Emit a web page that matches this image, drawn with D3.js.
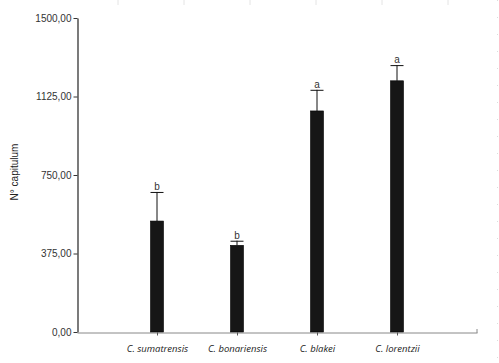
<!DOCTYPE html>
<html><head><meta charset="utf-8">
<script src="https://cdn.jsdelivr.net/npm/d3@7"></script>
<style>body{margin:0;background:#fff}svg{display:block}</style>
</head><body>
<svg id="c" width="499" height="363"></svg>
<script>
const categories = ["C. sumatrensis","C. bonariensis","C. blakei","C. lorentzii"];
const means = [530, 414, 1056, 1200];
const errors = [139, 22, 101, 75];
const letters = ["b","b","a","a"];
const yTicks = [0, 375, 750, 1125, 1500];
const yLabels = ["0,00","375,00","750,00","1125,00","1500,00"];

const svg = d3.select("#c");
const x0 = 77, x1 = 477, yTop = 18, yBot = 332;
const y = d3.scaleLinear().domain([0,1500]).range([yBot, yTop]);
const x = d3.scaleLinear().domain([0,5]).range([x0, x1]);

// faint spreadsheet gridlines at top
const gx = [118,184,250,316,382,448];
svg.selectAll("line.g").data(gx).enter().append("line")
  .attr("x1",d=>d).attr("x2",d=>d).attr("y1",0).attr("y2",5)
  .attr("stroke","#e4e4e4").attr("stroke-width",1);

// y axis
const yAxis = d3.axisLeft(y).tickValues(yTicks).tickFormat((d,i)=>yLabels[i]).tickSize(4).tickSizeOuter(0);
const ga = svg.append("g").attr("transform",`translate(${x0+0.5},0)`).call(yAxis);
ga.select(".domain").attr("stroke","#222").attr("stroke-width",1.2);
ga.selectAll(".tick line").attr("stroke","#333");
ga.selectAll(".tick text").attr("font-family","Arial, Liberation Sans, sans-serif").attr("font-size","10px").attr("fill","#333").attr("x",-6);

// x axis
const xAxis = d3.axisBottom(x).tickValues([1,2,3,4]).tickFormat((d)=>categories[d-1]).tickSize(3).tickSizeOuter(0);
const gb = svg.append("g").attr("transform",`translate(0,${yBot+0.5})`).call(xAxis);
gb.select(".domain").attr("stroke","#888").attr("stroke-width",1);
gb.selectAll(".tick line").attr("stroke","#555");
gb.selectAll(".tick text").attr("font-family","'Open Sans', 'DejaVu Sans', sans-serif").attr("font-size","9.5px").attr("font-style","italic").attr("fill","#222").attr("dy","1.45em");
svg.append("line").attr("x1",x1).attr("x2",x1).attr("y1",yBot-3).attr("y2",yBot+1).attr("stroke","#888");

// y label
svg.append("text").attr("transform",`translate(18,172) rotate(-90)`)
  .attr("text-anchor","middle").attr("font-family","Arial, Liberation Sans, sans-serif").attr("font-size","10px").attr("fill","#222")
  .text("N° capitulum");

const bw = 13;
const data = categories.map((c,i)=>({c,i,m:means[i],e:errors[i],l:letters[i]}));
// error bars
const eb = svg.append("g");
data.forEach(d=>{
  const cx = x(d.i+1);
  eb.append("line").attr("x1",cx).attr("x2",cx).attr("y1",y(d.m)).attr("y2",y(d.m+d.e)).attr("stroke","#111").attr("stroke-width",1);
  eb.append("line").attr("x1",cx-bw/2).attr("x2",cx+bw/2).attr("y1",y(d.m+d.e)+0.5).attr("y2",y(d.m+d.e)+0.5).attr("stroke","#111").attr("stroke-width",1);
  eb.append("text").attr("x",cx).attr("y",y(d.m+d.e)-2).attr("text-anchor","middle")
    .attr("font-family","Arial, Liberation Sans, sans-serif").attr("font-size","10px").attr("fill","#333").text(d.l);
});
svg.append("g").selectAll("rect").data(data).enter().append("rect")
  .attr("x",d=>x(d.i+1)-bw/2).attr("width",bw)
  .attr("y",d=>y(d.m)).attr("height",d=>yBot-y(d.m))
  .attr("fill","#161616").attr("stroke","#000").attr("stroke-width",0.6);

// right-side dotted line
svg.append("line").attr("x1",497.5).attr("x2",497.5).attr("y1",0).attr("y2",363)
  .attr("stroke","#ddd").attr("stroke-dasharray","1,16");
</script>
</body></html>
